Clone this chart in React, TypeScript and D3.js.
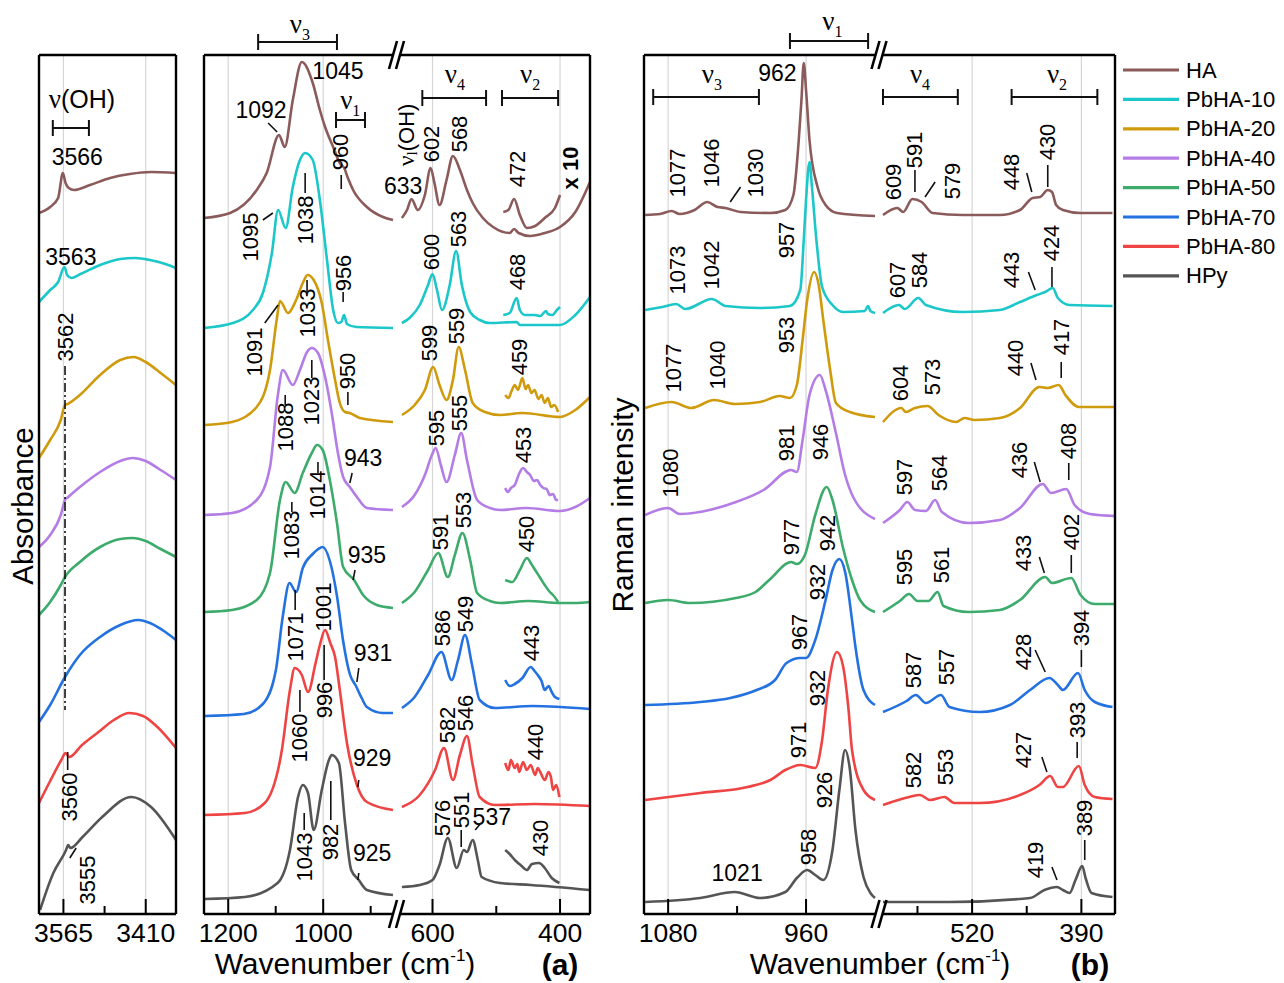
import React, { useEffect, useRef } from "react";
import * as d3 from "d3";

type Pt = [number, number];

const SAMPLES = ["HA", "PbHA-10", "PbHA-20", "PbHA-40", "PbHA-50", "PbHA-70", "PbHA-80", "HPy"];
const COLORS = ["#8b5b5b", "#1cc7c9", "#cf9b0d", "#b47de6", "#3cab6b", "#2471e0", "#ef4444", "#555555"];

// stacking offsets (a.u.) of every sample in each panel
const OH_OFFSETS = [701, 612, 456, 367, 299, 192, 111, 4];
const IR_OFFSETS = [696, 586, 489, 399, 302, 198, 99, 15];
const RAMAN_OFFSETS = [699, 604, 506, 399, 311, 209, 114, 12];

// IR, OH stretching region: [wavenumber, absorbance a.u.]
const OH_SPECTRA: Pt[][] = [
  [[3611,0],[3590,6],[3575,15],[3566,40],[3561,30],[3555,25],[3545,23],[3515,28],[3477,35],[3440,39],[3400,41],[3353,40]],
  [[3611,0],[3590,12],[3575,20],[3563,35],[3558,27],[3550,24],[3533,28],[3496,37],[3458,43],[3430,44],[3402,42],[3373,38],[3353,34]],
  [[3611,0],[3590,18],[3570,38],[3562,53],[3557,54],[3534,63],[3496,83],[3458,98],[3433,101],[3410,96],[3382,85],[3353,73]],
  [[3611,0],[3590,12],[3570,32],[3562,47],[3556,50],[3534,60],[3496,75],[3458,86],[3435,89],[3410,86],[3382,77],[3353,67]],
  [[3611,0],[3590,13],[3570,30],[3562,38],[3534,53],[3496,68],[3458,76],[3435,77],[3410,74],[3382,66],[3353,58]],
  [[3611,0],[3590,17],[3562,45],[3534,67],[3496,85],[3458,97],[3424,102],[3402,99],[3373,90],[3353,82]],
  [[3611,0],[3590,22],[3569,43],[3561,50],[3554,46],[3530,58],[3499,71],[3470,83],[3441,90],[3415,87],[3392,78],[3353,55]],
  [[3609,0],[3584,37],[3560,60],[3556,65],[3552,62],[3529,73],[3492,93],[3437,113],[3400,103],[3353,70]],
];

// IR, 1250-850 cm-1
const IR_HIGH: Pt[][] = [
  [[1251,0],[1196,5],[1140,28],[1119,45],[1093,83],[1081,71],[1064,118],[1045,156],[1022,135],[1007,108],[996,91],[979,71],[965,55],[960,52],[957,51],[948,40],[937,28],[908,11],[874,1],[853,-2]],
  [[1251,0],[1190,5],[1148,18],[1127,35],[1108,75],[1095,118],[1079,100],[1064,141],[1049,168],[1038,175],[1022,168],[1007,128],[992,68],[979,18],[969,5],[962,6],[956,13],[950,4],[930,1],[853,0]],
  [[1251,0],[1192,3],[1140,18],[1112,55],[1098,105],[1091,124],[1074,112],[1057,125],[1043,142],[1033,150],[1020,145],[1003,122],[990,85],[975,45],[965,22],[954,13],[944,12],[923,7],[853,3]],
  [[1251,0],[1192,2],[1140,15],[1112,48],[1096,118],[1085,145],[1064,130],[1049,145],[1034,163],[1024,167],[1011,162],[996,138],[982,102],[969,62],[958,38],[944,28],[929,18],[908,7],[853,5]],
  [[1251,0],[1192,2],[1140,12],[1112,39],[1091,112],[1079,130],[1060,119],[1043,139],[1024,159],[1013,167],[1001,162],[986,132],[971,89],[958,45],[935,32],[916,17],[887,7],[853,4]],
  [[1251,0],[1167,2],[1127,12],[1100,45],[1085,100],[1071,133],[1057,124],[1043,148],[1022,162],[1001,169],[986,155],[971,120],[958,75],[944,42],[931,30],[919,18],[908,9],[874,3],[853,3]],
  [[1251,0],[1165,2],[1123,12],[1087,65],[1070,125],[1060,147],[1045,140],[1032,123],[1016,152],[1007,170],[996,185],[985,172],[975,158],[965,125],[950,72],[929,30],[908,13],[853,5]],
  [[1251,0],[1165,2],[1096,16],[1070,49],[1053,102],[1043,114],[1032,106],[1020,69],[1003,109],[988,139],[982,144],[967,136],[954,76],[941,29],[925,19],[908,9],[853,4]],
];

// IR, 650-350 cm-1
const IR_LOW: Pt[][] = [
  [[648,0],[640,8],[633,19],[623,8],[612,23],[603,50],[597,35],[589,13],[578,38],[568,62],[557,48],[546,28],[537,15],[521,0],[505,-9],[479,-15],[472,-11],[465,-15],[447,-18],[424,-15],[400,-9],[376,6],[353,36]],
  [[648,5],[636,10],[620,23],[607,43],[600,54],[593,38],[585,18],[573,43],[563,77],[554,43],[541,16],[526,8],[510,5],[468,6],[463,3],[400,3],[376,13],[353,31]],
  [[648,10],[628,20],[612,35],[599,58],[589,40],[578,25],[568,45],[559,78],[549,55],[537,22],[518,13],[494,10],[459,12],[400,8],[376,15],[353,28]],
  [[648,8],[628,20],[612,40],[601,60],[595,67],[587,50],[578,33],[565,60],[555,82],[546,55],[530,15],[510,7],[494,5],[453,7],[400,4],[376,8],[353,17]],
  [[648,9],[628,20],[607,42],[591,59],[576,35],[565,57],[553,79],[541,52],[530,19],[510,11],[494,9],[450,11],[400,9],[376,9],[353,10]],
  [[648,8],[628,19],[607,41],[586,64],[570,36],[560,56],[549,81],[538,51],[526,16],[502,8],[443,10],[353,7]],
  [[648,8],[620,20],[596,45],[582,67],[568,35],[557,60],[546,79],[537,50],[526,18],[502,10],[440,11],[353,9]],
  [[648,12],[620,14],[600,19],[589,34],[576,61],[562,31],[551,49],[546,47],[537,59],[529,39],[523,22],[494,16],[446,14],[353,9]],
];

// IR nu2 region magnified x10
const IR_X10: Pt[][] = [
  [[489,6],[481,8],[472,19],[463,3],[452,-10],[439,-8],[424,0],[408,10],[400,23]],
  [[489,13],[479,15],[468,30],[463,18],[455,13],[440,13],[431,12],[422,17],[419,14],[412,13],[405,18],[400,21]],
  [[486,30],[481,27],[476,34],[471,40],[466,35],[459,47],[454,36],[450,40],[445,32],[440,35],[434,26],[429,30],[424,22],[419,27],[414,18],[409,20],[403,13]],
  [[486,27],[482,23],[477,27],[471,30],[465,40],[458,47],[452,43],[447,40],[441,34],[436,35],[431,30],[426,27],[421,26],[416,20],[411,21],[406,15],[403,15]],
  [[486,32],[475,30],[463,42],[452,54],[445,48],[439,42],[431,34],[424,27],[416,20],[411,17],[403,10]],
  [[486,36],[479,30],[471,32],[459,38],[446,49],[440,45],[435,41],[429,35],[424,26],[418,30],[413,24],[408,19],[401,17]],
  [[486,52],[481,45],[477,55],[471,47],[467,51],[464,43],[458,53],[452,45],[446,50],[439,40],[435,47],[431,43],[424,35],[418,43],[414,37],[411,25],[406,30],[401,18]],
  [[486,49],[479,45],[471,39],[462,34],[452,29],[444,35],[433,36],[424,31],[413,21],[401,16]],
];

// Raman, 1100-900 cm-1
const RAMAN_HIGH: Pt[][] = [
  [[1100,0],[1087,1],[1077,4],[1070,1],[1057,5],[1046,13],[1037,8],[1030,7],[1017,3],[991,2],[978,5],[971,20],[967,65],[964,115],[962,152],[960,125],[957,75],[950,28],[943,10],[933,2],[900,-1]],
  [[1100,0],[1085,3],[1073,6],[1065,1],[1042,11],[1030,4],[1000,2],[974,4],[965,20],[962,70],[960,110],[957,148],[955,125],[951,70],[946,23],[937,5],[928,-2],[909,-1],[906,4],[904,-1],[900,-3]],
  [[1100,0],[1077,6],[1060,0],[1040,8],[1022,4],[1000,6],[983,12],[974,10],[968,23],[963,68],[959,108],[953,136],[949,123],[945,88],[939,38],[934,5],[922,-4],[900,-9]],
  [[1100,0],[1080,7],[1070,1],[1021,13],[997,25],[973,45],[968,43],[963,75],[957,120],[948,140],[943,125],[934,82],[926,40],[919,18],[900,-4]],
  [[1100,0],[1080,3],[1061,0],[1021,5],[1004,11],[992,23],[973,41],[968,39],[961,48],[952,88],[942,116],[937,103],[928,56],[920,23],[913,3],[900,-9]],
  [[1100,0],[1052,3],[1026,7],[1003,15],[987,25],[977,42],[965,47],[960,47],[952,65],[943,105],[937,135],[931,146],[926,133],[920,85],[917,58],[910,15],[900,0]],
  [[1100,0],[1052,7],[1011,13],[991,20],[978,30],[965,35],[952,32],[946,60],[941,110],[933,148],[928,135],[923,90],[920,50],[910,10],[900,0]],
  [[1100,0],[1052,4],[1022,10],[1000,4],[978,10],[968,24],[959,32],[952,27],[945,22],[937,52],[931,112],[926,152],[922,134],[917,72],[910,25],[904,9],[900,4]],
];

// Raman, 625-350 cm-1
const RAMAN_LOW: Pt[][] = [
  [[626,0],[609,7],[602,3],[591,16],[580,13],[567,2],[531,0],[487,0],[463,5],[448,17],[439,18],[430,25],[425,23],[420,10],[412,5],[391,2],[353,2]],
  [[626,-3],[607,5],[600,1],[584,12],[575,5],[531,-2],[487,0],[463,8],[443,15],[433,18],[424,22],[418,12],[404,5],[353,4]],
  [[626,-14],[604,0],[599,-4],[588,0],[573,2],[560,-7],[539,-14],[529,-10],[517,-12],[487,-10],[463,0],[440,21],[430,20],[417,23],[409,13],[393,1],[350,1]],
  [[626,-8],[606,5],[597,13],[588,5],[575,4],[564,15],[556,3],[524,-8],[487,-5],[463,7],[436,31],[426,22],[408,26],[398,10],[380,1],[350,-1]],
  [[626,-9],[606,2],[595,9],[585,2],[572,2],[561,11],[554,-3],[524,-9],[487,-7],[463,3],[433,26],[425,20],[402,25],[391,8],[374,-1],[350,-1]],
  [[626,-7],[598,4],[587,10],[575,2],[557,10],[547,-2],[511,-7],[475,0],[451,15],[428,27],[418,20],[412,15],[394,32],[386,15],[374,3],[353,-2]],
  [[626,-5],[595,3],[582,5],[570,0],[553,3],[541,-3],[511,-3],[463,5],[440,15],[427,24],[418,13],[412,13],[393,34],[386,15],[374,3],[353,1]],
  [[626,0],[547,0],[451,4],[434,12],[419,15],[412,12],[404,9],[397,22],[389,36],[385,24],[378,9],[353,5]],
];

const TICKS_MAJOR: [string, number][] = [["oh",3565],["oh",3410],["a1",1200],["a1",1000],["a2",600],["a2",400],["b1",1080],["b1",960],["b2",520],["b2",390]];
const TICKS_MINOR: [string, number][] = [["oh",3487.5],["a1",1100],["a1",900],["a2",500],["b1",1020],["b2",585],["b2",455]];

// peak labels: text, panel, wavenumber, level, rotated
const LABELS: [string, string, number, number, number][] = [
  ["3566","oh",3539,757,0],["3563","oh",3551,657,0],["3562","oh",3562,577,1],["3560","oh",3554,117,1],["3555","oh",3519,34,1],
  ["1045","a1",969,843,0],["1092","a1",1131,804,0],["960","a1",964,762,1],["1095","a1",1154,677,1],["1038","a1",1038,694,1],
  ["956","a1",958,641,1],["1091","a1",1144,562,1],["1033","a1",1034,601,1],["950","a1",948,543,1],["1088","a1",1080,487,1],
  ["1023","a1",1024,513,1],["943","a1",916,456,0],["1083","a1",1066,379,1],["1014","a1",1011,419,1],["935","a1",908,359,0],
  ["1071","a1",1059,277,1],["1001","a1",1000,307,1],["931","a1",895,261,0],["1060","a1",1049,176,1],["996","a1",998,214,1],
  ["929","a1",897,156,0],["1043","a1",1040,57,1],["982","a1",984,72,1],["925","a1",897,61,0],
  ["633","a2",646,728,0],["602","a2",601,770,1],["568","a2",557,780,1],["472","a2",466,745,1],["600","a2",601,662,1],
  ["563","a2",560,685,1],["468","a2",467,642,1],["599","a2",604,571,1],["559","a2",562,588,1],["459","a2",463,557,1],
  ["595","a2",593,486,1],["555","a2",557,501,1],["453","a2",458,469,1],["591","a2",588,382,1],["553","a2",552,404,1],
  ["450","a2",452,380,1],["586","a2",585,286,1],["549","a2",549,300,1],["443","a2",444,271,1],["582","a2",576,189,1],
  ["546","a2",549,201,1],["440","a2",439,172,1],["576","a2",584,96,1],["551","a2",555,104,1],["537","a2",507,97,0],["430","a2",430,76,1],
  ["962","b1",985,841,0],["1077","b1",1072,741,1],["1046","b1",1042,751,1],["1030","b1",1004,741,1],["1073","b1",1072,644,1],
  ["1042","b1",1042,649,1],["957","b1",977,674,1],["953","b1",977,579,1],["1077","b1",1075,546,1],["1040","b1",1037,549,1],
  ["1080","b1",1078,441,1],["981","b1",977,471,1],["946","b1",947,472,1],["977","b1",973,377,1],["942","b1",941,381,1],
  ["932","b1",950,332,1],["967","b1",966,282,1],["932","b1",950,226,1],["971","b1",967,174,1],["926","b1",944,124,1],
  ["958","b1",958,67,1],["1021","b1",1020,41,0],
  ["609","b2",614,732,1],["591","b2",588,764,1],["579","b2",543,733,1],["448","b2",473,742,1],["430","b2",430,772,1],
  ["607","b2",609,634,1],["584","b2",582,644,1],["443","b2",473,644,1],["424","b2",425,671,1],["604","b2",605,531,1],
  ["573","b2",567,537,1],["440","b2",468,556,1],["417","b2",414,577,1],["597","b2",601,437,1],["564","b2",559,441,1],
  ["436","b2",464,454,1],["408","b2",405,473,1],["595","b2",601,347,1],["561","b2",557,349,1],["433","b2",459,361,1],
  ["402","b2",402,382,1],["587","b2",590,244,1],["557","b2",550,247,1],["428","b2",459,262,1],["394","b2",390,286,1],
  ["582","b2",590,144,1],["553","b2",552,147,1],["427","b2",459,164,1],["393","b2",395,194,1],["419","b2",445,54,1],["389","b2",386,96,1],
];

// leader lines: panel, w1, level1, w2, level2
const LEADERS: [string, number, number, number, number][] = [
  ["oh",3557,162,3557,144],["oh",3553,56,3541,66],
  ["a1",1116,791,1097,782],["a1",962,739,962,725],["a1",1127,694,1106,701],["a1",1038,741,1038,721],["a1",958,622,958,612],
  ["a1",1123,591,1095,609],["a1",1034,634,1034,621],["a1",948,522,948,509],["a1",1080,519,1080,509],["a1",1024,554,1024,536],
  ["a1",939,441,944,431],["a1",1066,412,1066,402],["a1",1011,452,1011,441],["a1",933,344,937,334],["a1",1059,324,1059,304],
  ["a1",998,269,998,234],["a1",925,246,929,232],["a1",1049,224,1049,202],["a1",925,134,927,127],["a1",1040,101,1040,84],
  ["a1",984,133,984,94],["a1",925,41,927,34],
  ["a2",555,84,555,67],["a2",533,84,524,91],
  ["b1",1026,712,1017,727],
  ["b2",588,744,588,722],["b2",576,717,564,732],["b2",455,741,449,722],["b2",430,749,430,727],["b2",453,642,445,624],
  ["b2",425,647,425,627],["b2",450,551,444,534],["b2",414,552,414,536],["b2",446,452,439,432],["b2",405,451,405,434],
  ["b2",440,357,434,341],["b2",402,359,402,341],["b2",445,264,433,242],["b2",390,264,390,247],["b2",437,157,431,142],
  ["b2",395,172,395,156],["b2",425,47,419,34],["b2",386,74,386,54],
];

// vibrational-mode ranges: panel, from, to, level
const BRACKETS: [string, number, number, number][] = [
  ["oh",3585,3517,786],["a1",1137,971,872],["a1",973,912,794],["a2",616,516,816],["a2",491,403,816],
  ["b1",974,906,873],["b1",1093,1001,817],["b2",626,537,817],["b2",473,371,817],
];

// mode symbols: panel, wavenumber, level, subscript, suffix
const MODES: [string, number, number, string, string][] = [
  ["oh",3530,814,"","(OH)"],["a1",1049,889,"3",""],["a1",943,813,"1",""],["a2",565,839,"4",""],["a2",447,839,"2",""],
  ["b1",937,892,"1",""],["b1",1042,839,"3",""],["b2",582,839,"4",""],["b2",419,839,"2",""],
];

const SANS = "'Liberation Sans', Arial, Helvetica, sans-serif";
const SERIF = "'Liberation Serif', 'Times New Roman', serif";

export default function App() {
  const ref = useRef<SVGSVGElement>(null);

  useEffect(() => {
    const svg = d3.select(ref.current);
    svg.selectAll("*").remove();

    const T = 55, B = 914;
    const xs: Record<string, d3.ScaleLinear<number, number>> = {
      oh: d3.scaleLinear().domain([3611, 3353]).range([39, 176]),
      a1: d3.scaleLinear().domain([1251, 853]).range([204, 393]),
      a2: d3.scaleLinear().domain([651, 353]).range([400, 590]),
      b1: d3.scaleLinear().domain([1101, 900]).range([644, 875]),
      b2: d3.scaleLinear().domain([626, 350]).range([883, 1115]),
    };
    const y = d3.scaleLinear().domain([0, 859]).range([B, T]);

    // grid lines
    svg.append("g")
      .selectAll("line")
      .data(TICKS_MAJOR)
      .join("line")
      .attr("x1", d => xs[d[0]](d[1])).attr("x2", d => xs[d[0]](d[1]))
      .attr("y1", T).attr("y2", B)
      .attr("stroke", "#d6d6d6").attr("stroke-width", 1.2);

    // spectra
    const drawSet = (panel: string, sets: Pt[][], offsets: number[]) => {
      const sx = xs[panel];
      const line = d3.line<Pt>()
        .x(d => sx(d[0]))
        .y(d => y(d[1]))
        .curve(d3.curveMonotoneX);
      svg.append("g")
        .attr("fill", "none")
        .attr("stroke-width", 2.6)
        .attr("stroke-linejoin", "round")
        .selectAll("path")
        .data(sets)
        .join("path")
        .attr("stroke", (_, i) => COLORS[i])
        .attr("d", (d, i) => line(d.map(p => [p[0], p[1] + offsets[i]] as Pt)));
    };
    drawSet("oh", OH_SPECTRA, OH_OFFSETS);
    drawSet("a1", IR_HIGH, IR_OFFSETS);
    drawSet("a2", IR_LOW, IR_OFFSETS);
    drawSet("a2", IR_X10, IR_OFFSETS);
    drawSet("b1", RAMAN_HIGH, RAMAN_OFFSETS);
    drawSet("b2", RAMAN_LOW, RAMAN_OFFSETS);

    // dash-dot marker of the 3562 band
    svg.append("line")
      .attr("x1", xs.oh(3562)).attr("x2", xs.oh(3562))
      .attr("y1", y(548)).attr("y2", y(204))
      .attr("stroke", "#111").attr("stroke-width", 1.6)
      .attr("stroke-dasharray", "9,3,2,3");

    // frames with axis breaks
    const frame = (x0: number, x1: number, brk: number | null) => {
      const p = d3.path();
      p.moveTo(x0, T); p.lineTo(x0, B);
      p.moveTo(x1, T); p.lineTo(x1, B);
      for (const yy of [T, B]) {
        if (brk === null) { p.moveTo(x0, yy); p.lineTo(x1, yy); }
        else { p.moveTo(x0, yy); p.lineTo(brk - 4, yy); p.moveTo(brk + 4, yy); p.lineTo(x1, yy); }
      }
      svg.append("path").attr("d", p.toString())
        .attr("fill", "none").attr("stroke", "#000").attr("stroke-width", 2.4);
      if (brk !== null) {
        for (const yy of [T, B]) {
          for (const off of [-3.5, 3.5]) {
            svg.append("line")
              .attr("x1", brk + off - 4).attr("y1", yy + 14)
              .attr("x2", brk + off + 4).attr("y2", yy - 14)
              .attr("stroke", "#000").attr("stroke-width", 2.6);
          }
        }
      }
    };
    frame(39, 176, null);
    frame(204, 590, 396.5);
    frame(644, 1115, 879);

    // ticks
    const tk = svg.append("g").attr("stroke", "#000").attr("stroke-width", 2);
    tk.selectAll("line.maj").data(TICKS_MAJOR).join("line").attr("class", "maj")
      .attr("x1", d => xs[d[0]](d[1])).attr("x2", d => xs[d[0]](d[1]))
      .attr("y1", B).attr("y2", B - 15);
    tk.selectAll("line.min").data(TICKS_MINOR).join("line").attr("class", "min")
      .attr("x1", d => xs[d[0]](d[1])).attr("x2", d => xs[d[0]](d[1]))
      .attr("y1", B).attr("y2", B - 8);
    svg.append("g")
      .attr("font-family", SANS).attr("font-size", 26.5).attr("text-anchor", "middle")
      .selectAll("text").data(TICKS_MAJOR).join("text")
      .attr("x", d => xs[d[0]](d[1])).attr("y", 942)
      .text(d => String(d[1]));

    // brackets
    const br = svg.append("g").attr("stroke", "#111").attr("stroke-width", 2).attr("fill", "none");
    BRACKETS.forEach(([p, w1, w2, lv]) => {
      const x1 = xs[p](w1), x2 = xs[p](w2), yy = y(lv);
      br.append("path").attr("d", `M${x1},${yy - 8}V${yy + 8}M${x1},${yy}H${x2}M${x2},${yy - 8}V${yy + 8}`);
    });

    // mode symbols
    MODES.forEach(([p, w, lv, sub, suffix]) => {
      const t = svg.append("text")
        .attr("x", xs[p](w)).attr("y", y(lv) + 8)
        .attr("text-anchor", "middle");
      t.append("tspan").attr("font-family", SERIF).attr("font-size", 27).text("ν");
      if (sub) t.append("tspan").attr("font-family", SERIF).attr("font-size", 16).attr("dy", 7).text(sub);
      if (suffix) t.append("tspan").attr("font-family", SANS).attr("font-size", 25).text(suffix);
    });

    // nu_l(OH) rotated label
    const rot = svg.append("text")
      .attr("transform", `translate(${xs.a2(642)},${y(779)}) rotate(-90)`)
      .attr("text-anchor", "middle").attr("dominant-baseline", "central");
    rot.append("tspan").attr("font-family", SERIF).attr("font-size", 24).text("ν");
    rot.append("tspan").attr("font-family", SERIF).attr("font-size", 15).attr("dy", 6).text("l");
    rot.append("tspan").attr("font-family", SANS).attr("font-size", 22).attr("dy", -6).text("(OH)");

    // x10 marker
    svg.append("text")
      .attr("transform", `translate(${xs.a2(383)},${y(746)}) rotate(-90)`)
      .attr("text-anchor", "middle").attr("dominant-baseline", "central")
      .attr("font-family", SANS).attr("font-size", 22).attr("font-weight", "bold")
      .text("x 10");

    // peak labels
    svg.append("g")
      .attr("font-family", SANS)
      .selectAll("text").data(LABELS).join("text")
      .attr("text-anchor", "middle").attr("dominant-baseline", "central")
      .attr("font-size", d => (d[4] ? 22 : 23))
      .attr("transform", d => `translate(${xs[d[1]](d[2])},${y(d[3])})${d[4] ? " rotate(-90)" : ""}`)
      .text(d => d[0]);

    svg.append("g")
      .attr("stroke", "#111").attr("stroke-width", 1.6)
      .selectAll("line").data(LEADERS).join("line")
      .attr("x1", d => xs[d[0]](d[1])).attr("y1", d => y(d[2]))
      .attr("x2", d => xs[d[0]](d[3])).attr("y2", d => y(d[4]));

    // axis titles
    const title = (x: number, yy: number, size: number, text: string) =>
      svg.append("text")
        .attr("transform", `translate(${x},${yy}) rotate(-90)`)
        .attr("text-anchor", "middle").attr("dominant-baseline", "central")
        .attr("font-family", SANS).attr("font-size", size).text(text);
    title(22, 506, 29.5, "Absorbance");
    title(622, 505, 30, "Raman intensity");

    for (const cx of [345, 880]) {
      const t = svg.append("text").attr("x", cx).attr("y", 974)
        .attr("text-anchor", "middle").attr("font-family", SANS).attr("font-size", 30);
      t.append("tspan").text("Wavenumber (cm");
      t.append("tspan").attr("font-size", 17).attr("dy", -13).text("-1");
      t.append("tspan").attr("dy", 13).text(")");
    }
    svg.append("text").attr("x", 560).attr("y", 975).attr("text-anchor", "middle")
      .attr("font-family", SANS).attr("font-size", 30).attr("font-weight", "bold").text("(a)");
    svg.append("text").attr("x", 1090).attr("y", 975).attr("text-anchor", "middle")
      .attr("font-family", SANS).attr("font-size", 30).attr("font-weight", "bold").text("(b)");

    // legend
    const lg = svg.append("g").selectAll("g").data(SAMPLES).join("g")
      .attr("transform", (_, i) => `translate(1123,${70 + i * 29.4})`);
    lg.append("line").attr("x1", 0).attr("x2", 56)
      .attr("stroke", (_, i) => COLORS[i]).attr("stroke-width", 3.2);
    lg.append("text").attr("x", 63).attr("dominant-baseline", "central")
      .attr("font-family", SANS).attr("font-size", 22).text(d => d);
  }, []);

  return (
    <div style={{ position: "absolute", left: 0, top: 0, background: "#fff" }}>
      <svg ref={ref} width={1284} height={983} style={{ display: "block" }} />
    </div>
  );
}
